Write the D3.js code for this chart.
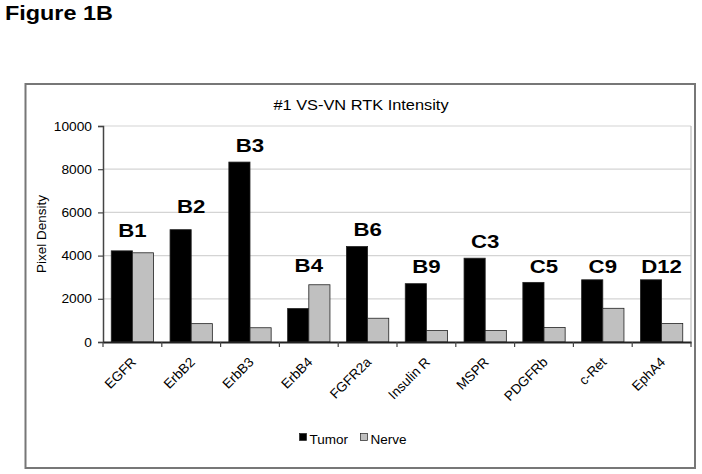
<!DOCTYPE html>
<html><head><meta charset="utf-8">
<script src="https://cdn.jsdelivr.net/npm/d3@7"></script>
<style>body{margin:0;background:#fff}svg{display:block;font-family:Arial,"Liberation Sans",sans-serif}</style>
</head><body><svg id="c" width="702" height="474"></svg>
<script>
const categories = ["EGFR","ErbB2","ErbB3","ErbB4","FGFR2a","Insulin R","MSPR","PDGFRb","c-Ret","EphA4"];
const tumor = [4220,5200,8330,1550,4420,2700,3880,2760,2880,2880];
const nerve = [4130,850,660,2650,1100,530,530,670,1560,860];
const spotLabels = ["B1","B2","B3","B4","B6","B9","C3","C5","C9","D12"];
const spotLabelLevels = [4880,5950,8790,3220,4900,3200,4370,3200,3200,3200];
const yTicks = [0,2000,4000,6000,8000,10000];
const seriesNames = ["Tumor","Nerve"];
const seriesColors = ["#000000","#c0c0c0"];

const svg = d3.select("#c");
const L=103, R=691, T=126, B=342;
const SX = 1.17;

function stretched(sel, x, y, anchor){
  return sel.attr("transform",`translate(${x},${y}) scale(${SX},1)`).attr("text-anchor",anchor||"start");
}

stretched(svg.append("text"),5,20).attr("font-size",20).attr("font-weight","bold").text("Figure 1B");
svg.append("rect").attr("x",25.5).attr("y",84).attr("width",669.5).attr("height",384)
  .attr("fill","none").attr("stroke","#777").attr("stroke-width",2);

const x = d3.scaleBand().domain(categories).range([L,R]).paddingInner(0).paddingOuter(0);
const sub = d3.scaleBand().domain(seriesNames).range([0,x.bandwidth()]).paddingInner(0).paddingOuter(0.39);
const y = d3.scaleLinear().domain([0,10000]).range([B,T]);

// gridlines
svg.append("g").selectAll("line").data(yTicks.filter(d=>d>0)).join("line")
  .attr("x1",L).attr("x2",R).attr("y1",d=>y(d)).attr("y2",d=>y(d)).attr("stroke","#d4d4d4").attr("stroke-width",1.2);
svg.append("line").attr("x1",R).attr("x2",R).attr("y1",T).attr("y2",B).attr("stroke","#bdbdbd").attr("stroke-width",1.2);

// bars
const data = categories.map((c,i)=>({c, vals:[tumor[i],nerve[i]]}));
const g = svg.append("g").selectAll("g").data(data).join("g").attr("transform",d=>`translate(${x(d.c)},0)`);
g.selectAll("rect").data(d=>d.vals.map((v,j)=>({s:seriesNames[j],v,j}))).join("rect")
  .attr("x",d=>sub(d.s)).attr("width",sub.bandwidth()).attr("y",d=>y(d.v)).attr("height",d=>B-y(d.v))
  .attr("fill",d=>seriesColors[d.j]).attr("stroke","#222").attr("stroke-width",0.8);

// axes
const ya = svg.append("g").attr("transform",`translate(${L},0)`)
  .call(d3.axisLeft(y).tickValues(yTicks).tickSize(5).tickPadding(6).tickFormat(d3.format("d")));
ya.select(".domain").attr("stroke","#444").attr("stroke-width",1.5);
ya.selectAll(".tick line").attr("stroke","#444").attr("stroke-width",1.2);
ya.selectAll(".tick text").attr("font-size",12.5).attr("font-family","Arial,'Liberation Sans',sans-serif").attr("fill","#000")
  .attr("x",0).attr("transform","translate(-11,0) scale(1.1,1)");

const xa = svg.append("g").attr("transform",`translate(0,${B})`)
  .call(d3.axisBottom(x).tickSize(0).tickFormat(""));
xa.select(".domain").attr("stroke","#222").attr("stroke-width",1.8);
svg.append("g").selectAll("line").data(d3.range(categories.length+1)).join("line")
  .attr("x1",i=>L+i*x.step()).attr("x2",i=>L+i*x.step()).attr("y1",B).attr("y2",B+5).attr("stroke","#444").attr("stroke-width",1.2);

svg.append("g").selectAll("text").data(categories).join("text")
  .attr("transform",d=>`translate(${x(d)+x.bandwidth()/2+4.5},${B+21}) rotate(-45)`)
  .attr("text-anchor","end").attr("font-size",13.5).text(d=>d);

// spot labels
svg.append("g").selectAll("text").data(spotLabels).join("text")
  .attr("transform",(d,i)=>`translate(${x(categories[i])+x.bandwidth()/2},${y(spotLabelLevels[i])}) scale(${SX},1)`)
  .attr("text-anchor","middle").attr("font-size",19).attr("font-weight","bold").text(d=>d);

// titles
stretched(svg.append("text"),361,110,"middle").attr("font-size",14).text("#1 VS-VN RTK Intensity");
svg.append("text").attr("transform",`translate(46,${(T+B)/2}) rotate(-90)`).attr("text-anchor","middle").attr("font-size",13.5).text("Pixel Density");

// legend
const leg = svg.append("g");
const lx = [299.5,360.5];
seriesNames.forEach((s,i)=>{
  leg.append("rect").attr("x",lx[i]).attr("y",433.5).attr("width",7).attr("height",7)
    .attr("fill",seriesColors[i]).attr("stroke","#222").attr("stroke-width",0.7);
  leg.append("text").attr("x",lx[i]+10).attr("y",444).attr("font-size",13.5).text(s);
});
</script></body></html>
